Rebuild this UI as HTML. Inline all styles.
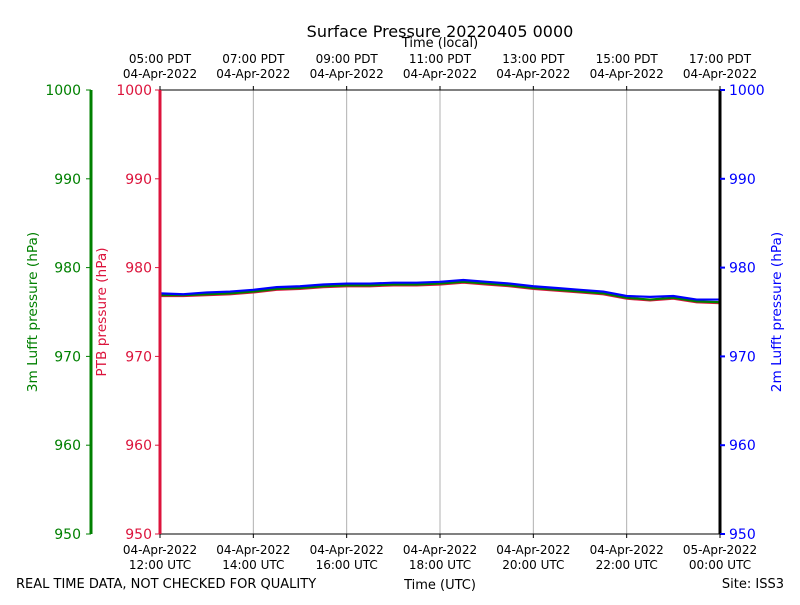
<!DOCTYPE html>
<html><head><meta charset="utf-8"><style>
body{margin:0;background:#fff}
svg{font-family:"DejaVu Sans","Liberation Sans",sans-serif}
</style></head><body>
<svg id="c" width="800" height="600" xmlns="http://www.w3.org/2000/svg"></svg>
<script>
const hours=[0,0.5,1,1.5,2,2.5,3,3.5,4,4.5,5,5.5,6,6.5,7,7.5,8,8.5,9,9.5,10,10.5,11,11.5,12];
const blue=[977.1,977.0,977.2,977.3,977.5,977.8,977.9,978.1,978.2,978.2,978.3,978.3,978.4,978.6,978.4,978.2,977.9,977.7,977.5,977.3,976.8,976.7,976.8,976.4,976.4];
const green=[976.9,976.9,977.0,977.1,977.3,977.6,977.7,977.9,978.0,978.0,978.1,978.1,978.2,978.4,978.2,978.0,977.7,977.5,977.3,977.1,976.6,976.4,976.6,976.2,976.1];
const red=[976.8,976.8,976.9,977.0,977.2,977.5,977.6,977.8,977.9,977.9,978.0,978.0,978.1,978.3,978.1,977.9,977.6,977.4,977.2,977.0,976.5,976.3,976.5,976.1,976.0];
const yTicks=[950,960,970,980,990,1000];
const utcTicks=[[0,"04-Apr-2022","12:00 UTC"],[2,"04-Apr-2022","14:00 UTC"],[4,"04-Apr-2022","16:00 UTC"],[6,"04-Apr-2022","18:00 UTC"],[8,"04-Apr-2022","20:00 UTC"],[10,"04-Apr-2022","22:00 UTC"],[12,"05-Apr-2022","00:00 UTC"]];
const localTicks=[[0,"05:00 PDT"],[2,"07:00 PDT"],[4,"09:00 PDT"],[6,"11:00 PDT"],[8,"13:00 PDT"],[10,"15:00 PDT"],[12,"17:00 PDT"]];
const L=160,R=720,T=90,B=534;
const x=h=>L+(R-L)*h/12, y=v=>B-(B-T)*(v-950)/50;
const s=document.getElementById('c');const NS="http://www.w3.org/2000/svg";
function el(t,a,txt){const e=document.createElementNS(NS,t);for(const k in a)e.setAttribute(k,a[k]);if(txt!==undefined)e.textContent=txt;s.appendChild(e);return e;}
utcTicks.forEach((t,i)=>{if(i>0&&i<6){const g=el('line',{x1:x(t[0]),x2:x(t[0]),y1:T,y2:B,stroke:'#b0b0b0','stroke-width':1});

}});
[[red,'#dc143c','ptb-series'],[green,'green','lufft-3m-series'],[blue,'blue','lufft-2m-series']].forEach(([d,c,n])=>{
const p=el('polyline',{points:d.map((v,i)=>x(hours[i])+','+y(v)).join(' '),fill:'none',stroke:c,'stroke-width':2.2});

});
el('line',{x1:L,x2:R,y1:T,y2:T,stroke:'#000'});el('line',{x1:L,x2:R,y1:B,y2:B,stroke:'#000'});
el('line',{x1:L,x2:L,y1:T,y2:B,stroke:'#dc143c','stroke-width':3});
el('line',{x1:R,x2:R,y1:T,y2:B,stroke:'#000','stroke-width':3});
el('line',{x1:91,x2:91,y1:T,y2:B,stroke:'green','stroke-width':3});
yTicks.forEach(v=>{const yy=y(v);
el('line',{x1:L-5,x2:L,y1:yy,y2:yy,stroke:'#dc143c'});
const a=el('text',{x:L-8,y:yy+5,'text-anchor':'end','font-size':14,fill:'#dc143c'},v);
el('line',{x1:86,x2:91,y1:yy,y2:yy,stroke:'green'});
const b=el('text',{x:81,y:yy+5,'text-anchor':'end','font-size':14,fill:'green'},v);
el('line',{x1:R,x2:R+5,y1:yy,y2:yy,stroke:'blue','stroke-width':2});
const c=el('text',{x:R+9,y:yy+5,'font-size':14,fill:'blue'},v);});
utcTicks.forEach(t=>{const xx=x(t[0]);el('line',{x1:xx,x2:xx,y1:B,y2:B+4,stroke:'#000'});
const a=el('text',{x:xx,y:554,'text-anchor':'middle','font-size':12},t[1]);
const b=el('text',{x:xx,y:569,'text-anchor':'middle','font-size':12},t[2]);});
localTicks.forEach(t=>{const xx=x(t[0]);el('line',{x1:xx,x2:xx,y1:T-4,y2:T,stroke:'#000'});
const a=el('text',{x:xx,y:63,'text-anchor':'middle','font-size':12},t[1]);
const b=el('text',{x:xx,y:78,'text-anchor':'middle','font-size':12},"04-Apr-2022");});
</script>
<svg width="800" height="600" style="position:absolute;left:0;top:0" xmlns="http://www.w3.org/2000/svg" font-family="DejaVu Sans, Liberation Sans, sans-serif">
<text x="440" y="37" text-anchor="middle" font-size="16">Surface Pressure 20220405 0000</text>
<text x="440" y="47" text-anchor="middle" font-size="13">Time (local)</text>
<text x="440" y="589" text-anchor="middle" font-size="13">Time (UTC)</text>
<text x="16" y="588" font-size="13">REAL TIME DATA, NOT CHECKED FOR QUALITY</text>
<text x="784" y="588" text-anchor="end" font-size="13">Site: ISS3</text>
<text transform="translate(37,312) rotate(-90)" text-anchor="middle" font-size="13.7" fill="green">3m Lufft pressure (hPa)</text>
<text transform="translate(106,312) rotate(-90)" text-anchor="middle" font-size="13.7" fill="#dc143c">PTB pressure (hPa)</text>
<text transform="translate(781,312) rotate(-90)" text-anchor="middle" font-size="13.7" fill="blue">2m Lufft pressure (hPa)</text>
</svg>
</body></html>
